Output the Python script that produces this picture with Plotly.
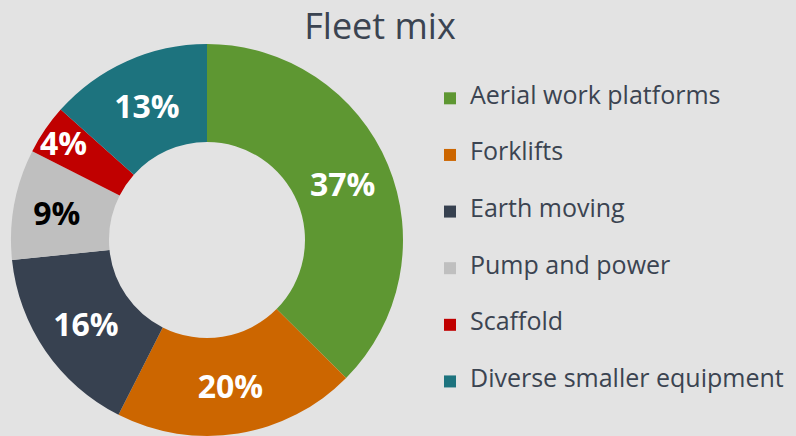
import plotly.graph_objects as go

categories = ["Aerial work platforms", "Forklifts", "Earth moving",
              "Pump and power", "Scaffold", "Diverse smaller equipment"]
shares = [37.4, 20.0, 15.9, 9.1, 4.1, 13.4]
colors = ["#5e9732", "#cc6600", "#374150", "#bfbfbf", "#c00000", "#1d737e"]
text_colors = ["#ffffff", "#ffffff", "#ffffff", "#000000", "#ffffff", "#ffffff"]

W, H = 796, 436
BG = "#e3e3e3"
FONT = "Open Sans"

legend_labels = [" <br><span style='font-size:25px'>%s</span><br> " % c for c in categories]

fig = go.Figure(go.Pie(
    labels=legend_labels,
    values=shares,
    hole=0.5,
    sort=False,
    direction="clockwise",
    rotation=0,
    marker=dict(colors=colors, line=dict(width=0)),
    texttemplate="%{percent:.0%}",
    textposition="inside",
    insidetextorientation="horizontal",
    textfont=dict(family=FONT, size=32, color=text_colors, weight="bold"),
    domain=dict(x=[11 / W, 403 / W], y=[0, 1 - 44 / H]),
    hoverinfo="skip",
))

fig.update_layout(
    width=W, height=H,
    margin=dict(l=0, r=0, t=0, b=0, autoexpand=False),
    paper_bgcolor=BG, plot_bgcolor=BG,
    uniformtext=dict(mode="show", minsize=32),
    title=dict(text="Fleet mix", x=380 / W, xanchor="center", xref="paper",
               y=1 - 26 / H, yanchor="middle", yref="paper",
               font=dict(family=FONT, size=36, color="#3b4451")),
    legend=dict(x=430 / W, xanchor="left", xref="paper",
                y=1 - 65 / H, yanchor="top", yref="paper",
                maxheight=420,
                font=dict(family=FONT, size=13.75, color="#3b4451"),
                bgcolor="rgba(0,0,0,0)", traceorder="normal"),
    showlegend=True,
)

fig.write_html("out.html", config={"displayModeBar": False},
               post_script="document.body.style.margin='0';document.body.style.overflow='hidden';")
